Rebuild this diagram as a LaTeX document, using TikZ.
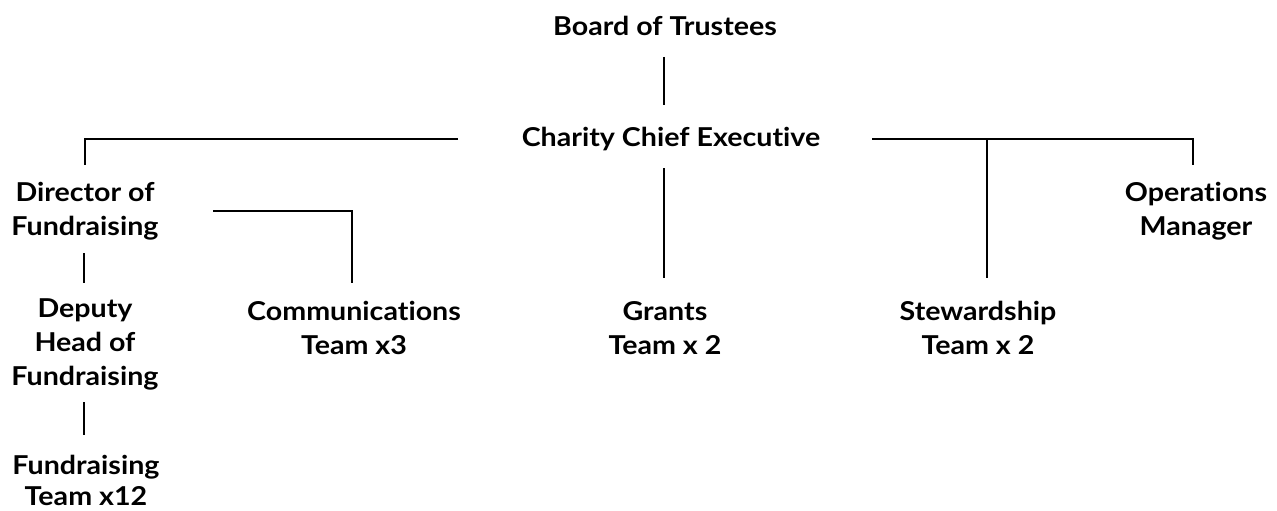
\documentclass[tikz,border=0pt]{standalone}
\usepackage{fontspec}
\setmainfont{Lato}[Ligatures={NoCommon},FakeStretch=1.1]
\begin{document}
\begin{tikzpicture}[x=1pt,y=-1pt,
  lab/.style={font=\bfseries\fontsize{26}{34}\selectfont, align=center, inner sep=0pt},
  conn/.style={line width=2.6pt}]
\useasboundingbox (0,0) rectangle (1277,511);
\node[lab] (board) at (665,26) {Board of Trustees};
\node[lab] (ceo) at (671,139) {Charity Chief Executive};
\node[lab] (dir) at (85,211) {Director of\\Fundraising};
\node[lab] (ops) at (1196,211) {Operations\\Manager};
\node[lab] (dep) at (85,344) {Deputy\\Head of\\Fundraising};
\node[lab] (comm) at (354,328) {Communications\\Team x3};
\node[lab] (grants) at (665,328) {Grants\\Team x 2};
\node[lab] (stew) at (978,328) {Stewardship\\Team x 2};
\node[lab,font=\bfseries\fontsize{26}{31}\selectfont] (fund) at (86,480) {Fundraising\\Team x12};
\draw[conn] ([xshift=-1pt]board.south |- 0,57) -- ([xshift=-1pt]board.south |- 0,105);
\draw[conn] (ceo.west -| 458,0) -| (dir.north |- 0,165);
\draw[conn] (ceo.east -| 872,0) -| ([xshift=-3pt]ops.north |- 0,165);
\draw[conn] ([xshift=9pt]stew.north |- ceo.east) -- ([xshift=9pt]stew.north |- 0,278);
\draw[conn] ([xshift=-1pt]grants.north |- 0,168) -- ([xshift=-1pt]grants.north |- 0,278);
\draw[conn] (dir.east -| 213,0) -| ([xshift=-2pt]comm.north |- 0,283);
\draw[conn] ([xshift=-1pt]dir.south |- 0,253) -- ([xshift=-1pt]dep.north |- 0,283);
\draw[conn] ([xshift=-1pt]dep.south |- 0,402) -- ([xshift=-1pt]dep.south |- 0,435);
\end{tikzpicture}
\end{document}
